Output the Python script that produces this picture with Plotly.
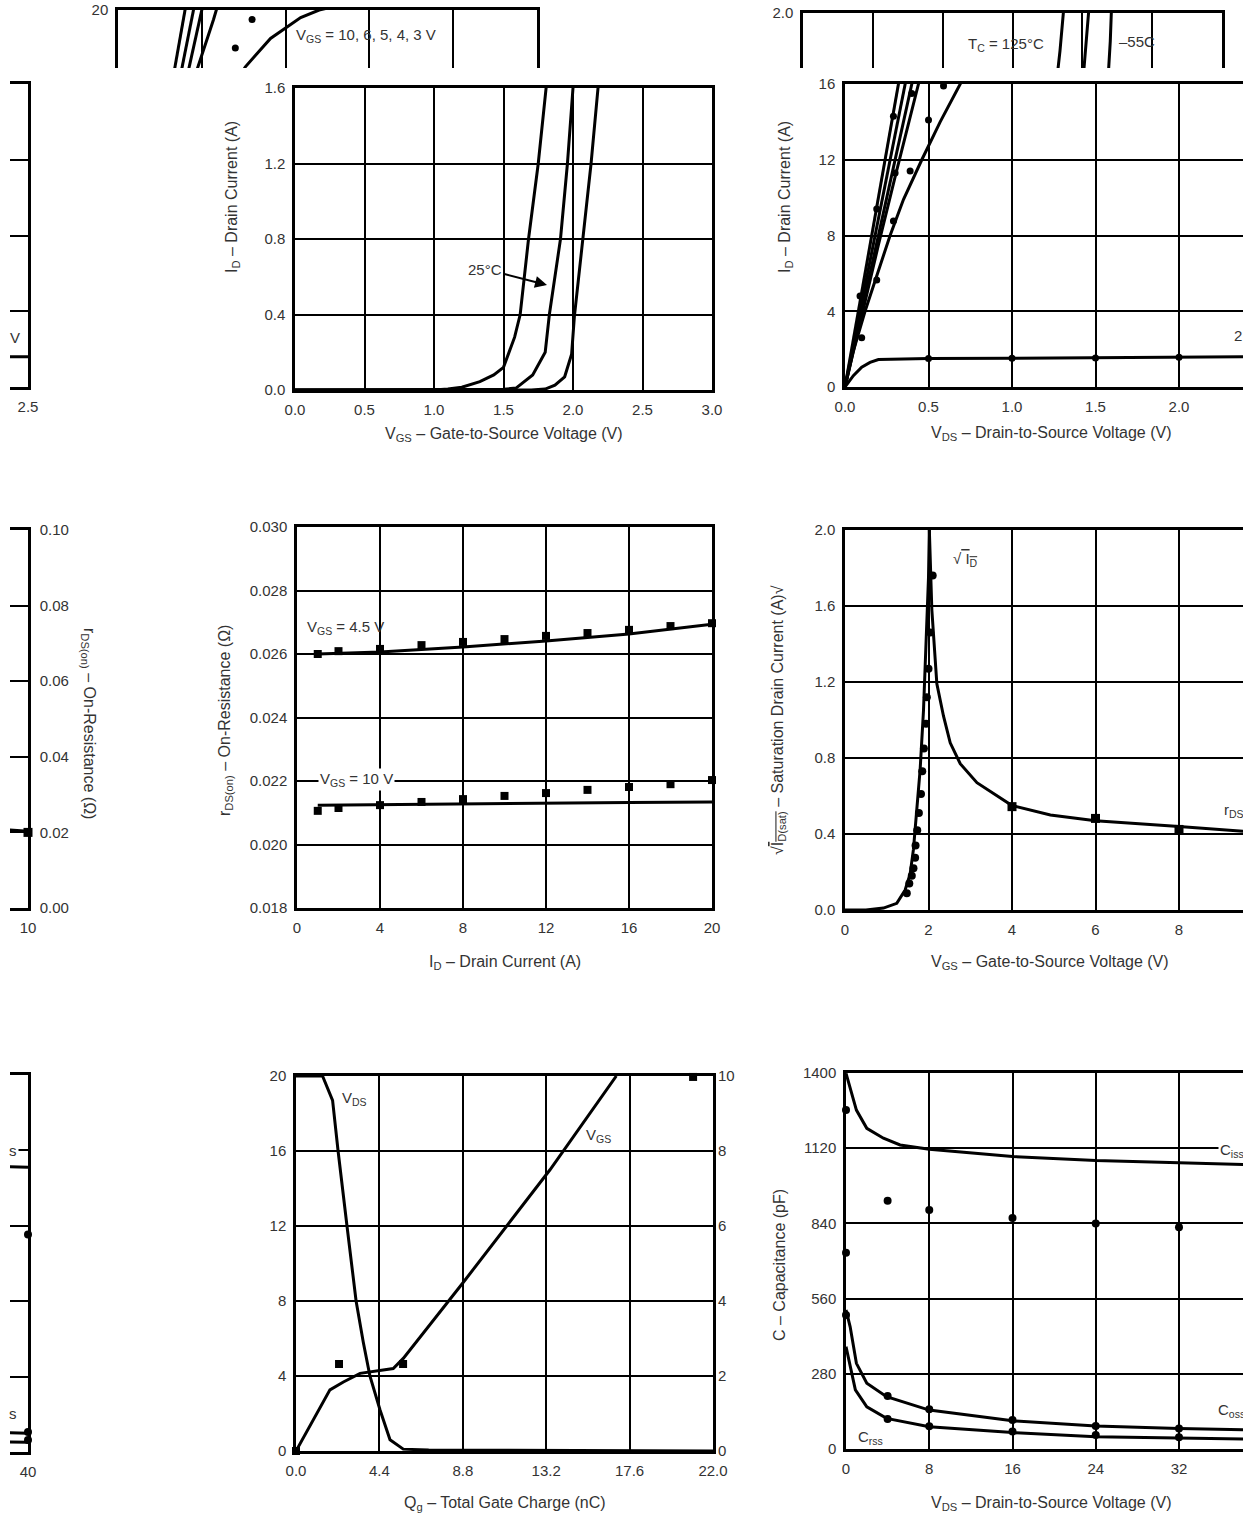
import plotly.graph_objects as go

W, H = 1243, 1517
FONT = "Liberation Sans, Arial, Helvetica, sans-serif"
TXT = "#333333"

# ---------------- DATA ----------------
# Transfer characteristics: I_D (A) vs V_GS (V)
vgs_125 = [0.0, 1.0, 1.1, 1.2, 1.33, 1.43, 1.5, 1.54, 1.58, 1.62, 1.68, 1.75, 1.81, 1.84, 1.87]
id_125 = [0.0, 0.0, 0.005, 0.015, 0.044, 0.08, 0.12, 0.2, 0.28, 0.4, 0.8, 1.2, 1.6, 1.8, 2.05]
vgs_25 = [0.0, 1.4, 1.5, 1.59, 1.71, 1.8, 1.83, 1.91, 1.96, 2.0, 2.03, 2.05]
id_25 = [0.0, 0.0, 0.004, 0.01, 0.08, 0.2, 0.4, 0.8, 1.2, 1.6, 1.85, 2.05]
vgs_m55 = [0.0, 1.7, 1.8, 1.87, 1.94, 1.99, 2.01, 2.07, 2.13, 2.18, 2.2, 2.21]
id_m55 = [0.0, 0.0, 0.005, 0.026, 0.07, 0.19, 0.39, 0.8, 1.2, 1.6, 1.85, 2.05]

# Output characteristics: I_D (A) vs V_DS (V)
vds_10v = [0.0, 0.1, 0.2, 0.3, 0.4, 0.45]
id_10v = [0.0, 5.0, 10.0, 15.0, 20.0, 22.5]
vds_6v = [0.0, 0.18, 0.36, 0.45, 0.5]
id_6v = [0.0, 8.0, 16.0, 20.0, 22.2]
vds_5v = [0.0, 0.2, 0.4, 0.5, 0.55]
id_5v = [0.0, 8.0, 16.0, 20.0, 22.0]
vds_4v = [0.0, 0.1, 0.2, 0.3, 0.44, 0.57, 0.62]
id_4v = [0.0, 3.8, 7.5, 11.1, 16.0, 19.5, 21.0]
vds_3v = [0.0, 0.05, 0.12, 0.19, 0.27, 0.35, 0.46, 0.57, 0.69, 0.76, 0.91, 1.09, 1.2, 1.5]
id_3v = [0.0, 1.9, 4.0, 5.9, 8.0, 9.9, 12.0, 14.0, 16.0, 17.0, 18.5, 19.6, 20.0, 20.6]
vds_2v = [0.0, 0.05, 0.1, 0.15, 0.2, 0.5, 1.0, 1.5, 2.0, 2.5]
id_2v = [0.0, 0.6, 1.05, 1.3, 1.45, 1.5, 1.52, 1.54, 1.57, 1.6]
vds_out_pts = [0.10, 0.09, 0.19, 0.19, 0.29, 0.29, 0.30, 0.39, 0.40, 0.50, 0.59, 0.70, 0.80,
               0.5, 1.0, 1.5, 2.0]
id_out_pts = [2.6, 4.8, 5.65, 9.4, 8.77, 14.3, 11.3, 11.4, 15.5, 14.1, 15.9, 18.0, 19.5,
              1.5, 1.52, 1.53, 1.57]

# On-resistance vs drain current
id_res_line = [1, 4, 8, 12, 16, 20]
r45_line = [0.02600, 0.02606, 0.02622, 0.02641, 0.02663, 0.02694]
r10_line = [0.02124, 0.02126, 0.02128, 0.02130, 0.02132, 0.02134]
id_res_pts = [1, 2, 4, 6, 8, 10, 12, 14, 16, 18, 20]
r45_pts = [0.02600, 0.02609, 0.02616, 0.02628, 0.02638, 0.02647, 0.02657, 0.02666, 0.02676, 0.02688, 0.02697]
r10_pts = [0.02106, 0.02115, 0.02124, 0.02134, 0.02143, 0.02153, 0.02162, 0.02172, 0.02181, 0.02190, 0.02203]

# sqrt(I_D(sat)) and r_DS(on) vs V_GS
vgs_sq = [0.0, 0.5, 0.92, 1.24, 1.44, 1.56, 1.64, 1.72, 1.80, 1.88, 1.94, 2.0, 2.02, 2.06]
sqrt_id = [0.0, 0.0, 0.01, 0.035, 0.105, 0.19, 0.32, 0.53, 0.74, 1.05, 1.4, 1.75, 2.0, 2.2]
vgs_sq_pts = [1.48, 1.54, 1.60, 1.64, 1.68, 1.69, 1.73, 1.77, 1.82, 1.85, 1.89, 1.94, 1.96, 2.0, 2.04, 2.10]
sqrt_id_pts = [0.088, 0.14, 0.18, 0.22, 0.275, 0.34, 0.42, 0.51, 0.61, 0.73, 0.85, 0.98, 1.12, 1.27, 1.46, 1.76]
vgs_rds = [2.02, 2.08, 2.2, 2.36, 2.52, 2.76, 3.16, 3.64, 4.0, 4.92, 6.0, 8.0, 10.0]
rds_ohm = [0.100, 0.079, 0.0595, 0.051, 0.044, 0.0385, 0.0335, 0.030, 0.0275, 0.025, 0.0235, 0.022, 0.0203]
vgs_rds_pts = [4, 6, 8, 10]
rds_pts = [0.0272, 0.0241, 0.0212, 0.0200]

# Gate charge
qg_vds = [0.0, 1.4, 1.93, 2.22, 2.69, 3.17, 3.55, 3.9, 4.43, 4.96, 5.66, 7.0, 22.0]
vds_qg = [20.0, 20.0, 18.7, 16.0, 12.0, 8.0, 5.8, 4.0, 2.2, 0.6, 0.1, 0.05, 0.0]
qg_vgs = [0.0, 1.79, 2.5, 3.38, 5.13, 5.66, 8.83, 13.4, 16.9]
vgs_qg = [0.0, 1.63, 1.84, 2.07, 2.2, 2.47, 4.5, 7.5, 10.0]
qg_pts = [0.0, 2.27, 5.65, 20.95]
v_pts = [0.0, 4.64, 4.64, 19.95]

# Capacitance
vds_cap = [0, 1, 2, 3.6, 5.2, 8, 16, 24, 32, 40]
ciss = [1399, 1262, 1194, 1157, 1132, 1116, 1089, 1074, 1066, 1057]
vds_coss = [0, 0.4, 1, 2, 3.9, 8, 16, 24, 32, 40]
coss = [518, 455, 319, 245, 195, 145, 105, 86, 76, 70]
vds_crss = [0, 0.4, 0.9, 2, 3.9, 8, 16, 24, 32, 40]
crss = [381, 306, 220, 157, 114, 83, 61, 46, 40, 36]
ciss_pts_v = [0, 0, 4, 8, 16, 24, 32, 40]
ciss_pts = [1262, 731, 924, 890, 860, 840, 826, 808]
coss_pts_v = [0, 4, 8, 16, 24, 32, 40]
coss_pts = [499, 197, 148, 108, 86, 76, 74]
crss_pts_v = [4, 8, 16, 24, 32, 40]
crss_pts = [112, 85, 65, 52, 44, 45]

# ---------------- HELPERS ----------------
def dx(a, b):
    return [a / W, min(b / W, 1.0)]

def dy(top, bottom):
    return [1 - bottom / H, 1 - top / H]

TF = dict(family=FONT, size=15, color=TXT)

def axis(**kw):
    base = dict(showgrid=True, gridcolor="black", gridwidth=2, showline=True, linecolor="black",
                linewidth=2.5, mirror=True, ticks="", zeroline=False, tickfont=TF,
                fixedrange=True, ticklabelstandoff=4, automargin=False)
    base.update(kw)
    return base

fig = go.Figure()

def line(x, y, xa, ya, w=3):
    fig.add_trace(go.Scatter(x=x, y=y, xaxis=xa, yaxis=ya, mode="lines",
                             line=dict(color="black", width=w), showlegend=False, hoverinfo="skip"))

def pts(x, y, xa, ya, sym="circle", size=8, clip=False):
    fig.add_trace(go.Scatter(x=x, y=y, xaxis=xa, yaxis=ya, mode="markers", cliponaxis=clip,
                             marker=dict(color="black", size=size, symbol=sym),
                             showlegend=False, hoverinfo="skip"))

# Panel A + its top fragment (x11/y13)
for xa, ya in (("x", "y"), ("x11", "y13")):
    line(vgs_125, id_125, xa, ya)
    line(vgs_25, id_25, xa, ya)
    line(vgs_m55, id_m55, xa, ya)

# Panel B, left wrap fragment (x7/y9), top fragment (x10/y12)
for xa, ya in (("x2", "y2"), ("x7", "y9"), ("x10", "y12")):
    for vx, iy in ((vds_10v, id_10v), (vds_6v, id_6v), (vds_5v, id_5v), (vds_4v, id_4v),
                   (vds_3v, id_3v), (vds_2v, id_2v)):
        line(vx, iy, xa, ya)
    pts(vds_out_pts, id_out_pts, xa, ya, size=7, clip=True)

# Panel C
line(id_res_line, r45_line, "x3", "y3")
line(id_res_line, r10_line, "x3", "y3")
pts(id_res_pts, r45_pts, "x3", "y3", "square", 8)
pts(id_res_pts, r10_pts, "x3", "y3", "square", 8)

# Panel D (+ wrap fragment x8/y10 for r_DS axis)
line(vgs_sq, sqrt_id, "x4", "y4")
pts(vgs_sq_pts, sqrt_id_pts, "x4", "y4", size=8, clip=True)
for xa, ya in (("x4", "y5"), ("x8", "y10")):
    line(vgs_rds, rds_ohm, xa, ya)
    pts(vgs_rds_pts, rds_pts, xa, ya, "square", 9)

# Panel E
line(qg_vds, vds_qg, "x5", "y6")
line(qg_vgs, vgs_qg, "x5", "y7")
pts(qg_pts, v_pts, "x5", "y6", "square", 8)

# Panel F (+ wrap fragment x9/y11)
for xa, ya in (("x6", "y8"), ("x9", "y11")):
    line(vds_cap, ciss, xa, ya)
    line(vds_coss, coss, xa, ya)
    line(vds_crss, crss, xa, ya)
    pts(ciss_pts_v, ciss_pts, xa, ya, size=8)
    pts(coss_pts_v, coss_pts, xa, ya, size=8)
    pts(crss_pts_v, crss_pts, xa, ya, size=8)

lay = dict(width=W, height=H, margin=dict(l=0, r=0, t=0, b=0, autoexpand=False),
           paper_bgcolor="white", plot_bgcolor="white", showlegend=False,
           font=dict(family=FONT, size=15, color=TXT))

# A
lay["xaxis"] = axis(domain=dx(295, 712), range=[0, 3], dtick=0.5, tickformat=".1f", anchor="y")
lay["yaxis"] = axis(domain=dy(88, 390), range=[0, 1.6], dtick=0.4, tickformat=".1f", anchor="x")
# B
lay["xaxis2"] = axis(domain=dx(845, 1243), range=[0, 398 / 167.0], dtick=0.5, tickformat=".1f", anchor="y2")
lay["yaxis2"] = axis(domain=dy(84, 387), range=[0, 16], dtick=4, anchor="x2", mirror=False)
# C
lay["xaxis3"] = axis(domain=dx(297, 712), range=[0, 20], dtick=4, anchor="y3")
lay["yaxis3"] = axis(domain=dy(527, 908), range=[0.018, 0.030], dtick=0.002, tickformat=".3f", anchor="x3")
# D
lay["xaxis4"] = axis(domain=dx(845, 1243), range=[0, 398 / 41.75], dtick=2, anchor="y4")
lay["yaxis4"] = axis(domain=dy(530, 910), range=[0, 2.0], dtick=0.4, tickformat=".1f", anchor="x4", mirror=False)
lay["yaxis5"] = dict(overlaying="y4", anchor="x4", side="right", range=[0, 0.1], showgrid=False,
                     showline=False, showticklabels=False, zeroline=False, fixedrange=True, automargin=False)
# E
lay["xaxis5"] = axis(domain=dx(296, 713), range=[0, 22], dtick=4.4, tickformat=".1f", anchor="y6")
lay["yaxis6"] = axis(domain=dy(1076, 1451), range=[0, 20], dtick=4, anchor="x5")
lay["yaxis7"] = dict(overlaying="y6", anchor="x5", side="right", range=[0, 10], dtick=2,
                     showgrid=False, showline=False, zeroline=False, ticks="", tickfont=TF,
                     fixedrange=True, ticklabelstandoff=4, automargin=False)
# F
lay["xaxis6"] = axis(domain=dx(846, 1243), range=[0, 397 / 10.406], dtick=8, anchor="y8")
lay["yaxis8"] = axis(domain=dy(1073, 1449), range=[0, 1400], dtick=280, anchor="x6", mirror=False)
# L1 (wrapped right end of B)
lay["xaxis7"] = axis(domain=dx(10, 28), range=[2.5 - 18 / 167.0, 2.5], tickvals=[2.5], ticktext=["2.5"],
                     showgrid=False, anchor="y9")
lay["yaxis9"] = axis(domain=dy(84, 387), range=[0, 16], dtick=4, side="right", mirror=False,
                     showticklabels=False, anchor="x7")
# L2 (wrapped right end of D, r_DS axis)
lay["xaxis8"] = axis(domain=dx(10, 28), range=[10 - 18 / 41.75, 10], tickvals=[10], ticktext=["10"],
                     showgrid=False, anchor="y10")
lay["yaxis10"] = axis(domain=dy(530, 908), range=[0, 0.1], dtick=0.02, tickformat=".2f", side="right",
                      mirror=False, anchor="x8", ticklabelstandoff=6)
# L3 (wrapped right end of F)
lay["xaxis9"] = axis(domain=dx(10, 28), range=[40 - 18 / 10.406, 40], tickvals=[40], ticktext=["40"],
                     showgrid=False, anchor="y11")
lay["yaxis11"] = axis(domain=dy(1075, 1452), range=[0, 1400], dtick=280, side="right", mirror=False,
                      showticklabels=False, anchor="x9")
# T1 (top of B)
lay["xaxis10"] = axis(domain=dx(118, 537), range=[0, 2.5], dtick=0.5, side="top", mirror=False,
                      showticklabels=False, anchor="y12")
lay["yaxis12"] = axis(domain=dy(10, 68), range=[20 - 58 / 18.94, 20], tickvals=[20], ticktext=["20"],
                      showgrid=False, anchor="x10")
# T2 (top of A)
lay["xaxis11"] = axis(domain=dx(803, 1222), range=[0, 3], dtick=0.5, side="top", mirror=False,
                      showticklabels=False, anchor="y13")
lay["yaxis13"] = axis(domain=dy(13, 68), range=[2.0 - 55 / 189.0, 2.0], tickvals=[2.0], ticktext=["2.0"],
                      showgrid=False, anchor="x11")

fig.update_layout(**lay)

def ann(px, py, text, xanchor="center", angle=0, bg=None, size=15):
    d = dict(x=px / W, y=1 - py / H, xref="paper", yref="paper", text=text, showarrow=False,
             xanchor=xanchor, yanchor="middle", textangle=angle,
             font=dict(family=FONT, size=size, color=TXT))
    if bg:
        d["bgcolor"] = bg
        d["borderpad"] = 1
    fig.add_annotation(**d)

# axis titles
ann(232, 197, "I<sub>D</sub> – Drain Current (A)", angle=-90, size=16)
ann(785, 197, "I<sub>D</sub> – Drain Current (A)", angle=-90, size=16)
ann(504, 434, "V<sub>GS</sub> – Gate-to-Source Voltage (V)", size=16)
ann(1051, 433, "V<sub>DS</sub> – Drain-to-Source Voltage (V)", size=16)
ann(226, 721, "r<sub>DS(on)</sub> – On-Resistance (Ω)", angle=-90, size=16)
ann(89, 723, "r<sub>DS(on)</sub> – On-Resistance (Ω)", angle=90, size=16)
ann(505, 962, "I<sub>D</sub> – Drain Current (A)", size=16)
ann(779, 720, "√<span style='text-decoration:overline'>I<sub>D(sat)</sub></span> – Saturation Drain Current (A)√", angle=-90, size=16)
ann(1050, 962, "V<sub>GS</sub> – Gate-to-Source Voltage (V)", size=16)
ann(505, 1503, "Q<sub>g</sub> – Total Gate Charge (nC)", size=16)
ann(779, 1265, "C – Capacitance (pF)", angle=-90, size=16)
ann(1051, 1503, "V<sub>DS</sub> – Drain-to-Source Voltage (V)", size=16)

# in-plot labels
ann(294, 36, "V<sub>GS</sub> = 10, 6, 5, 4, 3 V", xanchor="left")
ann(1006, 45, "T<sub>C</sub> = 125°C")
ann(1137, 42, "–55C")
ann(1232, 336, "2 V", xanchor="left")
ann(15, 337, "V")
ann(305, 627, "V<sub>GS</sub> = 4.5 V", xanchor="left")
ann(318, 779, "V<sub>GS</sub> = 10 V", xanchor="left", bg="white")
ann(951, 559, "√<span style='text-decoration:overline'> I<sub>D</sub></span>", xanchor="left")
ann(1222, 810, "r<sub>DS</sub>", xanchor="left")
ann(340, 1098, "V<sub>DS</sub>", xanchor="left")
ann(584, 1135, "V<sub>GS</sub>", xanchor="left")
ann(1218, 1150, "C<sub>iss</sub>", xanchor="left", bg="white")
ann(1216, 1410, "C<sub>oss</sub>", xanchor="left")
ann(870, 1437, "C<sub>rss</sub>")
ann(13, 1150, "s", bg="white")
ann(13, 1413, "s")

# 25°C arrow annotation in panel A
fig.add_annotation(x=1.813, y=0.556, xref="x", yref="y", text="25°C", showarrow=True,
                   ax=-62, ay=-16, arrowhead=2, arrowsize=1.2, arrowwidth=2, arrowcolor="black",
                   font=dict(family=FONT, size=15, color=TXT))

fig.write_html(
    "out.html",
    config={"displayModeBar": False},
    post_script="document.body.style.margin='0';document.body.style.padding='0';"
                "document.documentElement.style.overflow='hidden';",
)
